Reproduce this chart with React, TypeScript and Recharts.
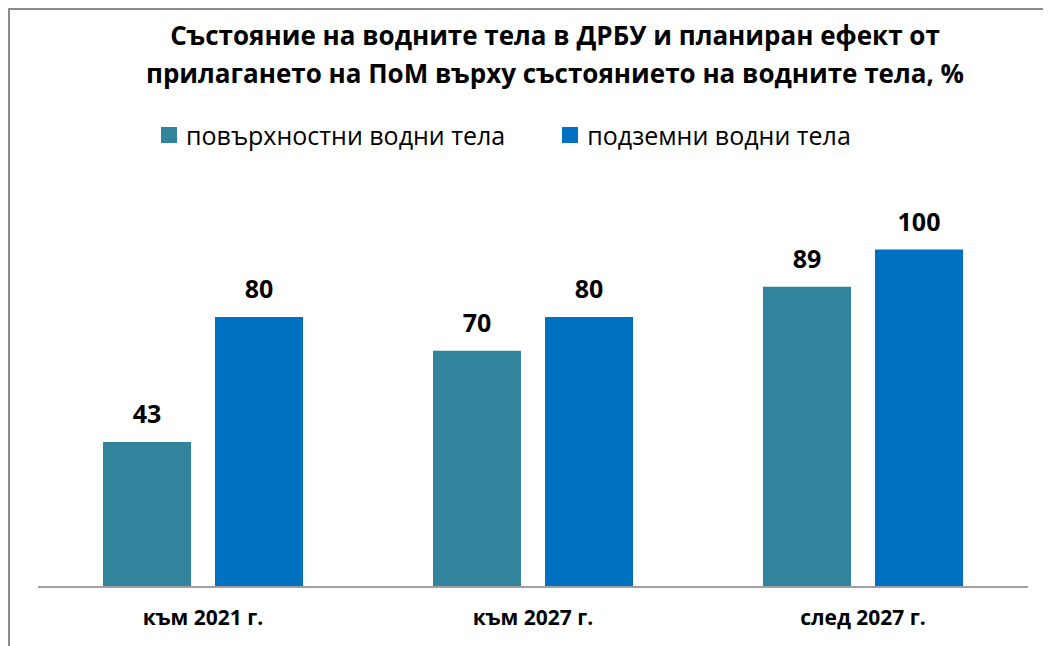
import React from 'react';
import { BarChart, Bar, XAxis, YAxis, Legend, LabelList } from 'recharts';

const categories = ['към 2021 г.', 'към 2027 г.', 'след 2027 г.'];
const surfaceValues = [43, 70, 89];
const groundValues = [80, 80, 100];
const seriesNames = ['повърхностни водни тела', 'подземни водни тела'];
const seriesColors = ['#31849B', '#0070C0'];

const titleLines = [
  'Състояние на водните тела в ДРБУ и планиран ефект от',
  'прилагането на ПоМ върху състоянието на водните тела, %',
];

const data = categories.map((name, i) => ({
  name,
  surface: surfaceValues[i],
  ground: groundValues[i],
}));

const FONT = '"Open Sans", sans-serif';

const LegendContent = () => (
  <div style={{ display: 'flex', justifyContent: 'flex-start', fontFamily: FONT, fontSize: 25, color: '#000' }}>
    {seriesNames.map((n, i) => (
      <div key={n} style={{ display: 'flex', alignItems: 'center', marginLeft: i === 0 ? 151 : 57 }}>
        <span style={{ width: 16, height: 16, background: seriesColors[i], display: 'inline-block', marginRight: 9 }} />
        <span>{n}</span>
      </div>
    ))}
  </div>
);

const labelStyle = { fontFamily: FONT, fontWeight: 700, fontSize: 25, fill: '#000' };

export default function App() {
  return (
    <div
      style={{
        position: 'relative',
        width: 1041,
        height: 636,
        borderTop: '2px solid #8c8c8c',
        borderLeft: '2px solid #8c8c8c',
        background: '#fff',
      }}
    >
      <div
        style={{
          position: 'absolute',
          top: 6,
          left: 0,
          width: 1090,
          textAlign: 'center',
          fontFamily: FONT,
          fontWeight: 700,
          fontSize: 26,
          lineHeight: '38px',
          color: '#000',
          zIndex: 2,
        }}
      >
        {titleLines.map((l) => (
          <div key={l}>{l}</div>
        ))}
      </div>
      <BarChart
        width={1041}
        height={636}
        data={data}
        margin={{ top: 172, right: 23, bottom: 0, left: 28 }}
        barCategoryGap="19.7%"
        barGap={24}
      >
        <YAxis hide domain={[0, 120]} />
        <XAxis
          dataKey="name"
          axisLine={{ stroke: '#a0a0a0', strokeWidth: 2 }}
          tickLine={false}
          height={59}
          tick={{ fontFamily: FONT, fontWeight: 700, fontSize: 21, fill: '#000' }}
          tickMargin={17}
        />
        <Legend
          layout="horizontal"
          verticalAlign="middle"
          align="center"
          content={<LegendContent />}
          wrapperStyle={{ top: 108, left: 0, width: 1041 }}
        />
        <Bar dataKey="surface" name={seriesNames[0]} fill={seriesColors[0]} isAnimationActive={false}>
          <LabelList dataKey="surface" position="top" offset={19} style={labelStyle} />
        </Bar>
        <Bar dataKey="ground" name={seriesNames[1]} fill={seriesColors[1]} isAnimationActive={false}>
          <LabelList dataKey="ground" position="top" offset={19} style={labelStyle} />
        </Bar>
      </BarChart>
    </div>
  );
}
